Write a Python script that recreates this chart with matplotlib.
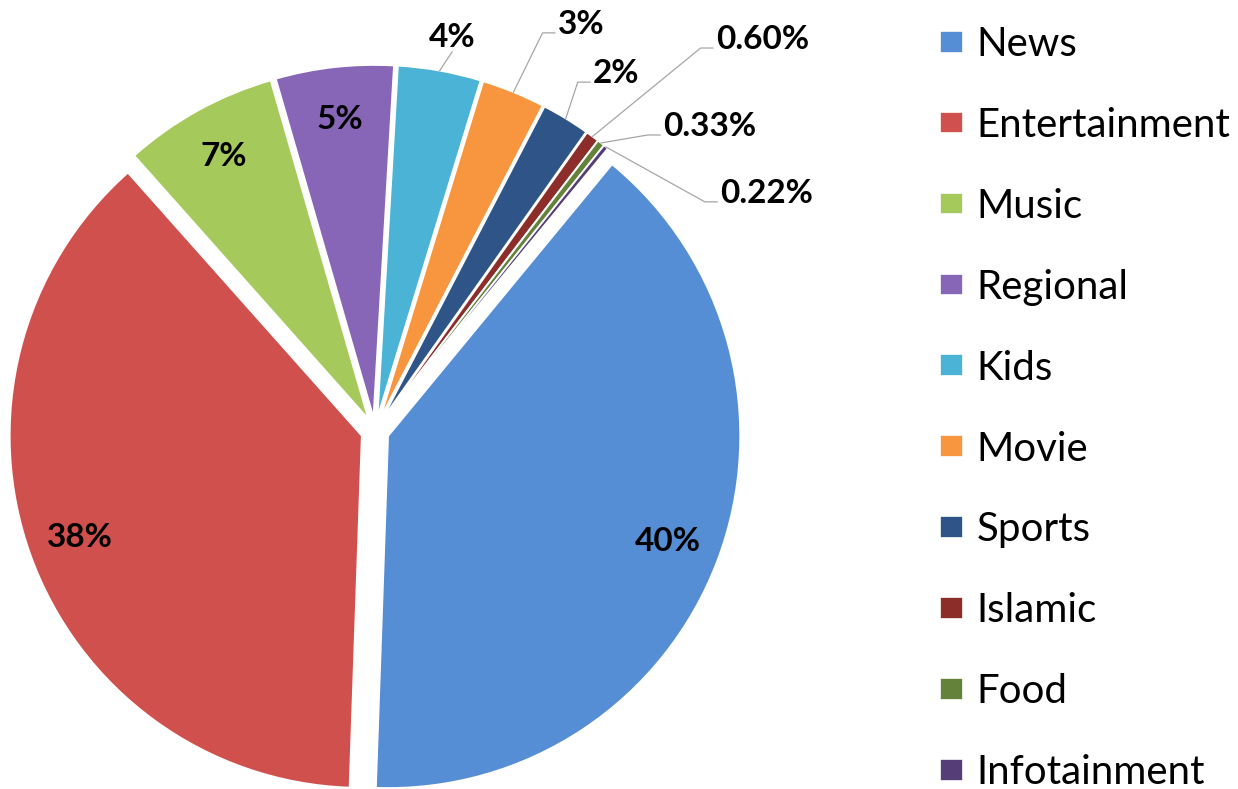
import matplotlib.pyplot as plt
import numpy as np

plt.rcParams['font.family'] = ['Lato', 'DejaVu Sans']

# channel share by genre (percent)
genres = ['News', 'Entertainment', 'Music', 'Regional', 'Kids', 'Movie',
          'Sports', 'Islamic', 'Food', 'Infotainment']
shares = [39.6, 37.9, 7.1, 5.4, 3.8, 2.9, 2.2, 0.60, 0.33, 0.22]
colors = ['#558ED5', '#D0504D', '#A6C95C', '#8766B8', '#4BB4D6', '#F8963F',
          '#2F5487', '#8C2D2A', '#64823A', '#553D78']

# where the small slice labels go (data units, pie radius = 1)
outside_labels = {
    4: (0.219, 1.077),
    5: (0.511, 1.131),
    6: (0.611, 0.991),
    7: (0.960, 1.088),
    8: (0.810, 0.841),
    9: (0.972, 0.651),
}


def pct_text(v):
    if v < 1:
        return '%.2f%%' % v
    return '%.0f%%' % v


fig = plt.figure(figsize=(12.38, 7.89), dpi=100)
ax = fig.add_axes([0, 0, 1, 1])

wedges, _ = ax.pie(shares, colors=colors, startangle=50.5, counterclock=False,
                   explode=[0.04] * len(shares), radius=1,
                   wedgeprops=dict(edgecolor='white', linewidth=1.2))

for i, w in enumerate(wedges):
    mid = np.deg2rad((w.theta1 + w.theta2) / 2)
    cx, cy = w.center
    txt = pct_text(shares[i])
    if i not in outside_labels:
        ax.text(cx + 0.85 * np.cos(mid), cy + 0.85 * np.sin(mid), txt,
                ha='center', va='center', fontsize=24, fontweight='bold')
        continue
    px, py = cx + np.cos(mid), cy + np.sin(mid)
    tx, ty = outside_labels[i]
    if i == 4:
        ax.plot([px, tx], [py, ty], color='#a6a6a6', lw=0.9)
        ax.text(tx, ty, txt, ha='center', va='bottom', fontsize=24, fontweight='bold')
    else:
        ax.plot([px, tx - 0.035, tx], [py, ty, ty], color='#a6a6a6', lw=0.9)
        ax.text(tx + 0.008, ty + 0.025, txt, ha='left', va='center',
                fontsize=24, fontweight='bold')

ax.set_xlim(-375 / 352, 863 / 352)
ax.set_ylim(-358 / 352, 431 / 352)
ax.set_aspect('equal')
ax.axis('off')

leg = ax.legend(wedges, genres, loc='upper left', bbox_to_anchor=(0.759, 0.967),
                bbox_transform=fig.transFigure, frameon=False, fontsize=29,
                handlelength=0.57, handleheight=0.45, handletextpad=0.35,
                labelspacing=1.09, borderpad=0, borderaxespad=0)

fig.savefig('out.png', dpi=100, facecolor='white')
